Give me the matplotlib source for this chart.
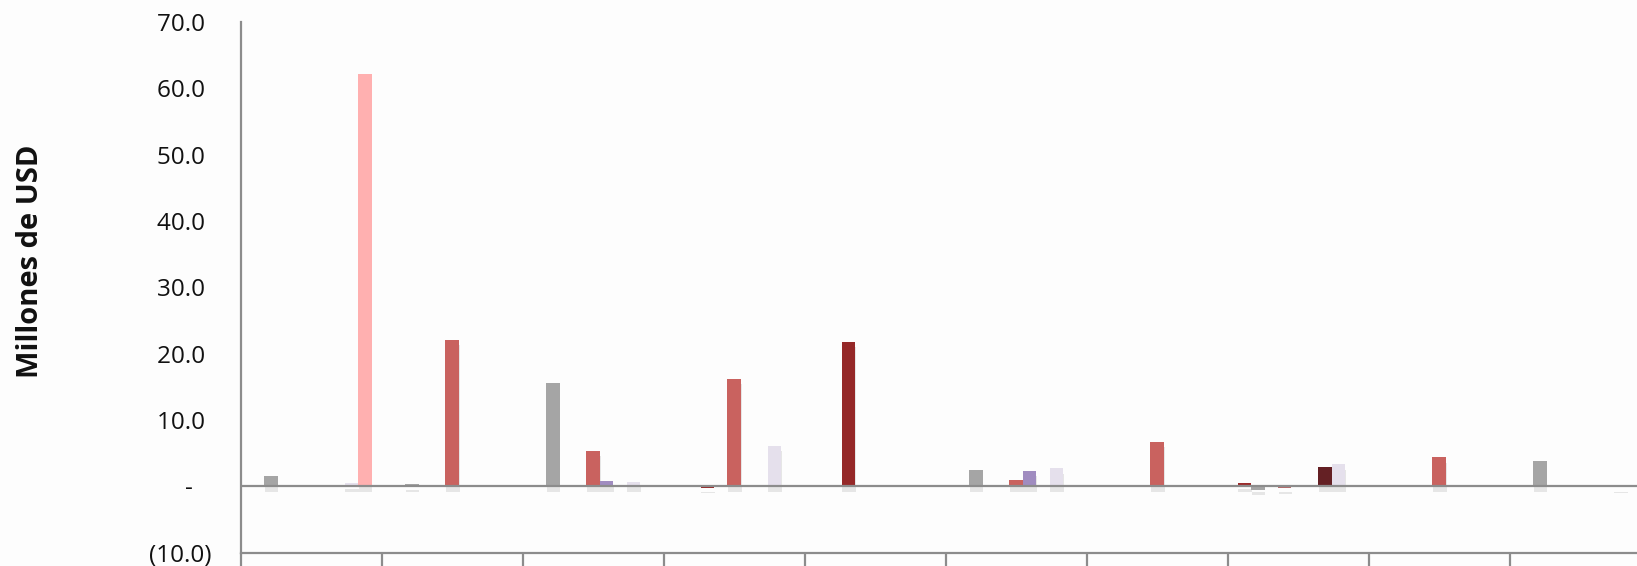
import matplotlib
matplotlib.use("Agg")
import matplotlib.pyplot as plt
import matplotlib.patheffects as pe
import numpy as np
from matplotlib.ticker import FixedLocator, NullFormatter

# ---- data (millones de USD), 10 visible categories, 9 series ----
n_categories = 10
category_labels = [""] * n_categories   # labels are cut off in the reference

serie_0 = [0.0, 0.0, 0.0, 0.0, 0.0, 0.0, 0.0, 0.45, 0.0, 0.0]
serie_1 = [1.6, 0.35, 15.5, 0.0, 0.0, 2.5, 0.0, -0.5, 0.0, 3.8]
serie_2 = [0.0, 0.0, 0.0, -0.2, 21.8, 0.0, 0.0, 0.0, 0.0, 0.0]
serie_3 = [0.0, 0.0, 0.0, 0.0, 0.0, 0.0, 0.0, -0.25, 0.0, 0.0]
serie_4 = [0.0, 22.1, 5.4, 16.2, 0.0, 1.0, 6.7, 0.0, 4.4, 0.0]
serie_5 = [0.05, 0.0, 0.85, 0.0, 0.0, 2.35, 0.0, 0.0, 0.0, 0.0]
serie_6 = [0.0, 0.0, 0.0, 0.0, 0.0, 0.0, 0.05, 2.9, 0.0, 0.0]
serie_7 = [0.5, 0.0, 0.7, 6.1, 0.0, 2.7, 0.0, 3.3, 0.0, -0.1]
serie_8 = [62.1, 0.0, 0.0, 0.0, 0.0, 0.0, 0.0, 0.05, 0.0, 0.0]

series = [serie_0, serie_1, serie_2, serie_3, serie_4,
          serie_5, serie_6, serie_7, serie_8]
colors = ["#9B2B2B", "#A5A5A5", "#952828", "#B56A6A", "#C9625F",
          "#A08CC0", "#642024", "#E5E0EC", "#FFB0B0"]

yticks = [-10, 0, 10, 20, 30, 40, 50, 60, 70]
# accounting-style labels (positive values padded like the closing parenthesis)
ytick_labels = ["(10.0)", "-   ", "10.0 ", "20.0 ", "30.0 ", "40.0 ",
                "50.0 ", "60.0 ", "70.0 "]

# ---- figure ----
W, H, DPI = 1637, 566, 100
fig = plt.figure(figsize=(W / DPI, H / DPI), dpi=DPI, facecolor="#FDFDFD")
ax = fig.add_axes([240.7 / W, 13.3 / H, 1410 / W, 530.9 / H])
ax.set_facecolor("#FDFDFD")

n_series = len(series)
bw = 1.0 / (n_series + 1.5)
x = np.arange(n_categories)
first = -0.5 + 0.75 * bw + 0.5 * bw
shadow = [pe.SimplePatchShadow(offset=(0.5, -4), shadow_rgbFace="#808080", alpha=0.18),
          pe.Normal()]
for k, (vals, col) in enumerate(zip(series, colors)):
    ax.bar(x + first + k * bw, vals, width=bw, color=col,
           edgecolor="none", path_effects=shadow, zorder=3)

ax.axhline(0, color="#8C8C8C", lw=1.6, zorder=4)

ax.set_xlim(-0.5, n_categories - 0.5)
ax.set_ylim(-10, 70)
ax.set_yticks(yticks)
ax.set_yticklabels(ytick_labels, fontsize=17.5, family="Open Sans", color="#111111")
ax.tick_params(axis="y", length=0, pad=21)

ax.set_xticks(x)
ax.set_xticklabels(category_labels)
ax.tick_params(axis="x", which="major", length=0)
ax.xaxis.set_minor_locator(FixedLocator(np.arange(-0.5, n_categories, 1.0)))
ax.xaxis.set_minor_formatter(NullFormatter())
ax.tick_params(axis="x", which="minor", length=25, width=1.6, color="#8C8C8C",
               direction="out")

for s in ["top", "right"]:
    ax.spines[s].set_visible(False)
for s in ["left", "bottom"]:
    ax.spines[s].set_color("#8C8C8C")
    ax.spines[s].set_linewidth(1.6)

ax.set_ylabel("Millones de USD", fontsize=21, fontweight="bold",
              family="Open Sans", color="#111111")
ax.yaxis.set_label_coords(-0.1385, 0.549)

fig.savefig("out.png", dpi=DPI, facecolor=fig.get_facecolor())
